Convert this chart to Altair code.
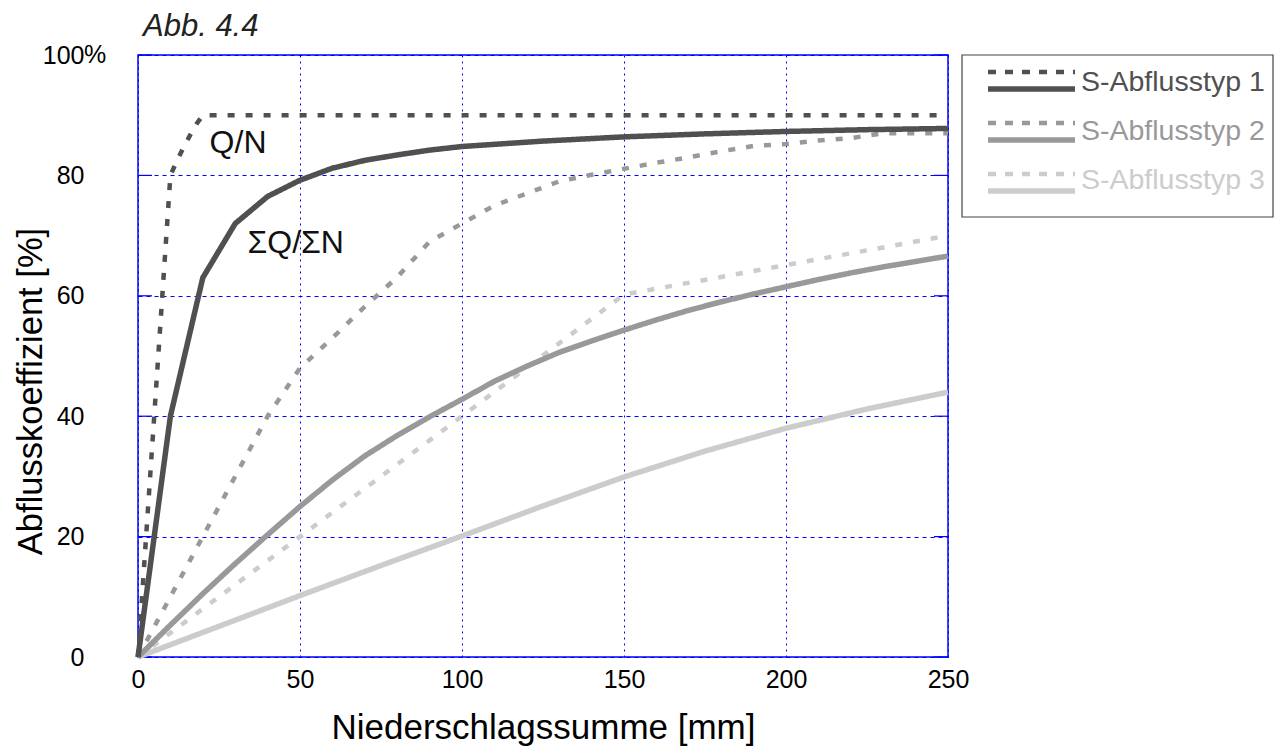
import altair as alt
import pandas as pd

# ---------------- data ----------------
typen = ["S-Abflusstyp 1", "S-Abflusstyp 2", "S-Abflusstyp 3"]
farben = ["#505050", "#999999", "#cccccc"]
arten = ["Q/N", "ΣQ/ΣN"]

# S-Abflusstyp 1
x_t1_qn = [0, 10, 12, 14, 16, 18, 20, 250]
y_t1_qn = [0, 80, 82.4, 84.6, 86.6, 88.5, 90, 90]
x_t1_sum = [0, 10, 20, 30, 40, 50, 60, 70, 80, 90, 100, 125, 150, 175, 200, 225, 250]
y_t1_sum = [0, 40, 63, 72, 76.5, 79.2, 81.2, 82.5, 83.4, 84.2, 84.8, 85.7, 86.4, 86.9, 87.3, 87.6, 87.8]

# S-Abflusstyp 2
x_t2_qn = [0, 10, 20, 30, 40, 50, 60, 70, 80, 90, 100, 110, 120, 130, 140, 150,
           160, 170, 180, 190, 200, 210, 220, 230, 240, 250]
y_t2_qn = [0, 10, 20, 30, 40, 48, 53, 58.2, 63.1, 69, 72, 75, 77, 79, 80.1, 81.1,
           82.1, 83, 84, 84.9, 85.2, 85.8, 86.2, 87, 87, 87]
x_t2_sum = [0, 10, 20, 30, 40, 50, 60, 70, 80, 90, 100, 110, 120, 130, 140, 150,
            160, 170, 180, 190, 200, 210, 220, 230, 240, 250]
y_t2_sum = [0, 5.3, 10.5, 15.5, 20.3, 25, 29.4, 33.4, 36.8, 39.9, 42.8, 45.8, 48.3, 50.6, 52.5, 54.3,
            56, 57.6, 59, 60.3, 61.5, 62.7, 63.8, 64.8, 65.7, 66.6]

# S-Abflusstyp 3
x_t3_qn = [0, 50, 100, 150, 200, 250]
y_t3_qn = [0, 20, 40, 60.2, 65.1, 70]
x_t3_sum = [0, 25, 50, 75, 100, 125, 150, 175, 200, 225, 250]
y_t3_sum = [0, 5.1, 10.2, 15.2, 20.1, 25.1, 29.9, 34.2, 38, 41.2, 44]

x_ticks = [0, 50, 100, 150, 200, 250]
y_ticks = [0, 20, 40, 60, 80, 100]

anno_text = ["Q/N", "ΣQ/ΣN"]
anno_x = [22.1, 33.8]
anno_y = [83.7, 67.1]

fig_label = "Abb. 4.4"
x_title = "Niederschlagssumme [mm]"
y_title = "Abflusskoeffizient [%]"

# ---------------- build tables ----------------
serien = [
    (typen[2], arten[1], x_t3_sum, y_t3_sum),
    (typen[2], arten[0], x_t3_qn, y_t3_qn),
    (typen[1], arten[1], x_t2_sum, y_t2_sum),
    (typen[1], arten[0], x_t2_qn, y_t2_qn),
    (typen[0], arten[1], x_t1_sum, y_t1_sum),
    (typen[0], arten[0], x_t1_qn, y_t1_qn),
]
rows = []
for k, (t, a, xs, ys) in enumerate(serien):
    for xv, yv in zip(xs, ys):
        rows.append({"x": xv, "y": yv, "typ": t, "art": a, "serie": k})
df = pd.DataFrame(rows)

FONT = "Liberation Sans"
W, H = 810, 602

xscale = alt.Scale(domain=[0, 250], nice=False, zero=False)
yscale = alt.Scale(domain=[0, 100], nice=False, zero=False)

lines = alt.Chart(df).mark_line(strokeJoin="round", strokeCap="butt").encode(
    x=alt.X("x:Q", scale=xscale,
            axis=alt.Axis(values=x_ticks, title=x_title, grid=True, gridDash=[2, 4],
                          gridColor="#0000ff", gridWidth=1, gridOpacity=1,
                          domain=False, ticks=False, tickSize=0,
                          labelFontSize=25, labelFont=FONT, labelColor="#000000",
                          labelPadding=10, labelAngle=0, labelFlush=False,
                          labelOverlap=False,
                          titleFontSize=35, titleFont=FONT, titleFontWeight="normal",
                          titleColor="#000000", titleX=405, titleY=81,
                          titleAlign="center", titleBaseline="alphabetic")),
    y=alt.Y("y:Q", scale=yscale,
            axis=alt.Axis(values=y_ticks, title=y_title, grid=True, gridDash=[4, 4],
                          gridColor="#0000ff", gridWidth=1, gridOpacity=1,
                          domain=False, ticks=False, tickSize=0,
                          labelFontSize=25, labelFont=FONT, labelColor="#000000",
                          labelPadding=54, labelAlign="right", labelBaseline="middle",
                          labelFlush=False, labelOverlap=False,
                          titleFontSize=34.5, titleFont=FONT, titleFontWeight="normal",
                          titleColor="#000000", titleAngle=270, titleX=-97, titleY=336,
                          titleAlign="center", titleBaseline="alphabetic")),
    color=alt.Color("typ:N", scale=alt.Scale(domain=typen, range=farben), legend=None),
    strokeDash=alt.StrokeDash("art:N", scale=alt.Scale(domain=arten, range=[[7, 11], [1, 0]]), legend=None),
    strokeWidth=alt.StrokeWidth("art:N", scale=alt.Scale(domain=arten, range=[4.5, 5.5]), legend=None),
    detail="serie:N",
)

# inner y ticks (left and right)
tick_df = pd.DataFrame({"v": y_ticks})
ticks_left = alt.Chart(tick_df).mark_rule(color="#0000ff", strokeWidth=1.2).encode(
    y=alt.Y("v:Q", scale=yscale), x=alt.value(0), x2=alt.value(14))
ticks_right = alt.Chart(tick_df).mark_rule(color="#0000ff", strokeWidth=1.2).encode(
    y=alt.Y("v:Q", scale=yscale), x=alt.value(W - 14), x2=alt.value(W))

# "%" after the 100 label
pct = alt.Chart(pd.DataFrame({"v": [100], "t": ["%"]})).mark_text(
    align="left", baseline="middle", fontSize=25, font=FONT, color="#000000").encode(
    y=alt.Y("v:Q", scale=yscale), x=alt.value(-54), text="t:N")

# annotations
anno_df = pd.DataFrame({"x": anno_x, "y": anno_y, "t": anno_text})
annos = alt.Chart(anno_df).mark_text(
    align="left", baseline="alphabetic", fontSize=32, font=FONT, color="#111111").encode(
    x=alt.X("x:Q", scale=xscale), y=alt.Y("y:Q", scale=yscale), text="t:N")

# figure label
fig = alt.Chart(pd.DataFrame({"t": [fig_label]})).mark_text(
    align="left", baseline="alphabetic", fontSize=31, font=FONT, fontStyle="italic",
    color="#222222").encode(x=alt.value(5), y=alt.value(-19), text="t:N")

# legend box
one = pd.DataFrame({"a": [0]})
box = alt.Chart(one).mark_rect(fill="white", stroke="#444444", strokeWidth=1.2).encode(
    x=alt.value(824), x2=alt.value(1135), y=alt.value(0), y2=alt.value(162))

legend_layers = [box]
for i, (name, col) in enumerate(zip(typen, farben)):
    yd = 17 + 51 * i
    ys = 34 + 51 * i
    yt = 27 + 49 * i
    legend_layers.append(alt.Chart(one).mark_rule(
        color=col, strokeWidth=4.5, strokeDash=[8, 9]).encode(
        x=alt.value(850), x2=alt.value(937), y=alt.value(yd)))
    legend_layers.append(alt.Chart(one).mark_rule(
        color=col, strokeWidth=5.5).encode(
        x=alt.value(850), x2=alt.value(937), y=alt.value(ys)))
    legend_layers.append(alt.Chart(pd.DataFrame({"t": [name]})).mark_text(
        align="left", baseline="middle", fontSize=28.5, font=FONT, color=col).encode(
        x=alt.value(943), y=alt.value(yt), text="t:N"))

chart = alt.layer(ticks_left, ticks_right, lines, annos, pct, fig, *legend_layers).properties(
    width=W, height=H,
    autosize=alt.AutoSizeParams(type="none"),
    padding={"left": 138, "top": 55, "right": 334, "bottom": 96},
    background="white",
).configure_view(stroke="#0000ff", strokeWidth=1.5)

chart.save("out.html", embed_options={"renderer": "svg", "actions": False})
